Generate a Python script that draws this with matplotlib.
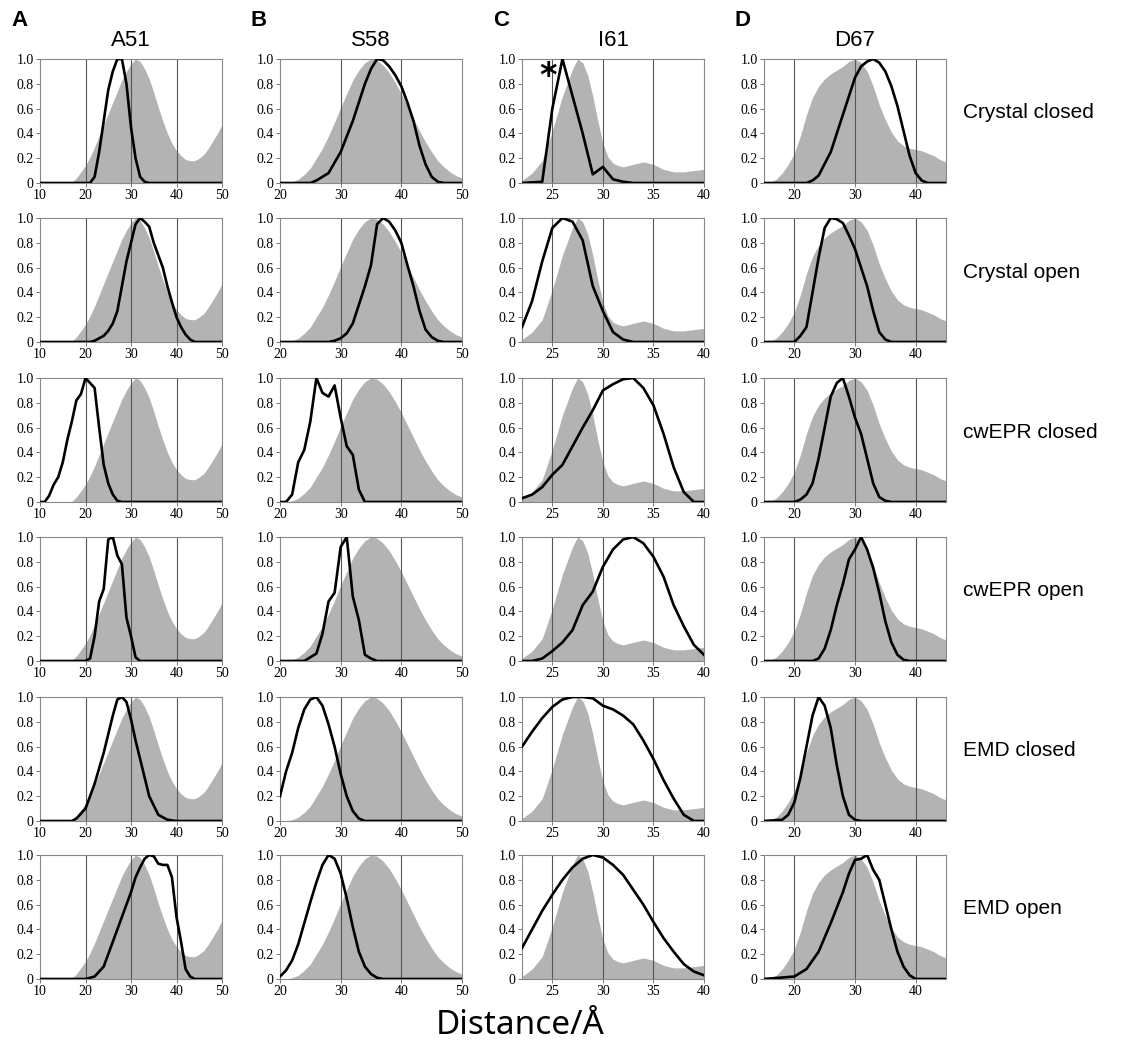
'''Distance distributions: simulated (gray) vs. experimental (black) per residue'''

import numpy as np
import matplotlib.pyplot as plt

residues = ['A51', 'S58', 'I61', 'D67']
letters = ['A', 'B', 'C', 'D']
states = ['Crystal closed', 'Crystal open', 'cwEPR closed', 'cwEPR open',
          'EMD closed', 'EMD open']
xlims = [(10, 50), (20, 50), (22, 40), (15, 45)]
xticks = [[10, 20, 30, 40, 50], [20, 30, 40, 50], [25, 30, 35, 40], [20, 30, 40]]
vlines = [[20, 30, 40], [30, 40], [25, 30, 35], [20, 30, 40]]

# gray reference distributions (one per residue)
gray_x = [
    [10, 16.5, 17, 18, 19, 20, 21, 22, 23, 24, 25, 26, 27, 28, 29, 30, 31, 32, 33, 34, 35, 36, 37, 38,
     39, 40, 41, 42, 43, 44, 45, 46, 47, 48, 49, 50],
    [20, 21, 22, 23, 24, 25, 26, 27, 28, 29, 30, 31, 32, 33, 34, 35, 36, 37, 38, 39, 40, 41, 42, 43,
     44, 45, 46, 47, 48, 49, 50],
    [22, 23, 24, 25, 26, 27, 27.5, 28, 28.5, 29, 29.5, 30, 30.5, 31, 31.5, 32, 33, 34, 35, 36, 37, 38,
     39, 40],
    [15, 16, 17, 18, 19, 20, 21, 22, 23, 24, 25, 26, 27, 28, 29, 30, 31, 32, 33, 34, 35, 36, 37, 38, 39,
     40, 41, 42, 43, 44, 45],
]
gray_y = [
    [0, 0, 0.005, 0.04, 0.09, 0.14, 0.21, 0.29, 0.38, 0.47, 0.56, 0.65, 0.74, 0.83, 0.9, 0.96, 1.0,
     0.98, 0.92, 0.84, 0.73, 0.61, 0.5, 0.4, 0.32, 0.26, 0.22, 0.19, 0.18, 0.18, 0.2, 0.23, 0.28, 0.34,
     0.4, 0.47],
    [0, 0, 0.01, 0.03, 0.07, 0.12, 0.2, 0.28, 0.38, 0.49, 0.61, 0.72, 0.83, 0.91, 0.97, 1.0, 0.99,
     0.95, 0.89, 0.81, 0.72, 0.62, 0.52, 0.42, 0.33, 0.25, 0.18, 0.13, 0.09, 0.06, 0.04],
    [0.02, 0.08, 0.18, 0.42, 0.7, 0.92, 1.0, 0.97, 0.87, 0.7, 0.5, 0.32, 0.21, 0.16, 0.14, 0.13, 0.15,
     0.17, 0.15, 0.11, 0.09, 0.09, 0.1, 0.11],
    [0, 0.005, 0.03, 0.08, 0.15, 0.24, 0.38, 0.55, 0.69, 0.78, 0.84, 0.88, 0.91, 0.94, 0.98, 1.0, 0.97,
     0.9, 0.78, 0.63, 0.51, 0.41, 0.34, 0.3, 0.28, 0.27, 0.26, 0.24, 0.22, 0.19, 0.17],
]

# black measured distributions, [row][col] = (x, y)
black = [
    [  # Crystal closed
        ([10, 21, 22, 23, 24, 25, 26, 27, 28, 29, 30, 31, 32, 33, 34, 50],
         [0, 0, 0.05, 0.25, 0.5, 0.75, 0.9, 1.0, 1.0, 0.8, 0.45, 0.2, 0.05, 0.01, 0, 0]),
        ([20, 25, 26, 28, 30, 32, 34, 35, 36, 37, 38, 39, 40, 41, 42, 43, 44, 45, 46, 47, 50],
         [0, 0, 0.02, 0.08, 0.25, 0.5, 0.8, 0.92, 1.0, 0.99, 0.94, 0.87, 0.78, 0.65, 0.5, 0.3, 0.15,
          0.05, 0.01, 0, 0]),
        ([22, 24, 25, 26, 27, 28, 29, 30, 31, 32, 33, 40],
         [0, 0.01, 0.6, 1.0, 0.7, 0.4, 0.07, 0.13, 0.03, 0.01, 0, 0]),
        ([15, 22, 23, 24, 26, 28, 30, 31, 32, 33, 34, 35, 36, 37, 38, 39, 40, 41, 42, 45],
         [0, 0, 0.02, 0.06, 0.25, 0.55, 0.85, 0.94, 0.98, 1.0, 0.97, 0.9, 0.78, 0.62, 0.42, 0.22, 0.08,
          0.02, 0, 0]),
    ],
    [  # Crystal open
        ([10, 21, 22, 24, 25, 26, 27, 28, 29, 30, 31, 32, 33, 34, 35, 36, 37, 38, 39, 40, 41, 42, 43,
          44, 50],
         [0, 0, 0.01, 0.05, 0.09, 0.15, 0.25, 0.45, 0.65, 0.8, 0.95, 1.0, 0.97, 0.93, 0.8, 0.7, 0.6,
          0.45, 0.32, 0.2, 0.12, 0.06, 0.02, 0, 0]),
        ([20, 28, 29, 30, 31, 32, 33, 34, 35, 36, 37, 38, 39, 40, 41, 42, 43, 44, 45, 46, 47, 50],
         [0, 0, 0.01, 0.03, 0.07, 0.15, 0.3, 0.45, 0.62, 0.95, 1.0, 0.97, 0.9, 0.8, 0.62, 0.45, 0.25,
          0.1, 0.04, 0.01, 0, 0]),
        ([22, 23, 24, 25, 26, 27, 28, 29, 30, 31, 32, 33, 40],
         [0.12, 0.33, 0.65, 0.92, 1.0, 0.97, 0.82, 0.45, 0.25, 0.08, 0.02, 0, 0]),
        ([15, 20, 21, 22, 23, 24, 25, 26, 27, 28, 29, 30, 31, 32, 33, 34, 35, 36, 45],
         [0, 0, 0.05, 0.12, 0.4, 0.68, 0.92, 1.0, 0.99, 0.96, 0.86, 0.75, 0.6, 0.45, 0.25, 0.08, 0.02,
          0, 0]),
    ],
    [  # cwEPR closed
        ([10, 11, 12, 13, 14, 15, 16, 17, 18, 19, 20, 21, 22, 23, 24, 25, 26, 27, 28, 50],
         [0, 0, 0.05, 0.14, 0.2, 0.32, 0.5, 0.65, 0.82, 0.87, 1.0, 0.96, 0.92, 0.6, 0.3, 0.15, 0.06,
          0.01, 0, 0]),
        ([20, 21, 22, 23, 24, 25, 26, 27, 28, 29, 30, 31, 32, 33, 34, 50],
         [0, 0, 0.06, 0.32, 0.42, 0.65, 1.0, 0.88, 0.85, 0.94, 0.68, 0.45, 0.38, 0.1, 0, 0]),
        ([22, 23, 24, 25, 26, 27, 28, 29, 30, 31, 32, 33, 34, 35, 36, 37, 38, 39, 40],
         [0.03, 0.06, 0.12, 0.22, 0.3, 0.45, 0.6, 0.74, 0.9, 0.95, 0.99, 1.0, 0.92, 0.78, 0.55, 0.28,
          0.08, 0, 0]),
        ([15, 20, 21, 22, 23, 24, 25, 26, 27, 28, 29, 30, 31, 32, 33, 34, 35, 36, 45],
         [0, 0, 0.02, 0.06, 0.15, 0.35, 0.6, 0.85, 0.96, 1.0, 0.85, 0.68, 0.55, 0.35, 0.15, 0.04, 0.01,
          0, 0]),
    ],
    [  # cwEPR open
        ([10, 20, 21, 22, 23, 24, 25, 26, 27, 28, 29, 30, 31, 32, 50],
         [0, 0, 0.02, 0.2, 0.48, 0.58, 0.98, 1.0, 0.85, 0.78, 0.35, 0.2, 0.03, 0, 0]),
        ([20, 24, 25, 26, 27, 28, 29, 30, 31, 32, 33, 34, 35, 36, 50],
         [0, 0, 0.03, 0.06, 0.22, 0.48, 0.55, 0.92, 1.0, 0.52, 0.33, 0.05, 0.02, 0, 0]),
        ([22, 23, 24, 25, 26, 27, 28, 29, 30, 31, 32, 33, 34, 35, 36, 37, 38, 39, 40],
         [0, 0, 0.02, 0.08, 0.15, 0.25, 0.45, 0.56, 0.76, 0.9, 0.98, 1.0, 0.95, 0.84, 0.68, 0.45, 0.28,
          0.13, 0.05]),
        ([15, 23, 24, 25, 26, 27, 28, 29, 30, 31, 32, 33, 34, 35, 36, 37, 38, 39, 45],
         [0, 0, 0.02, 0.1, 0.25, 0.45, 0.62, 0.82, 0.9, 1.0, 0.9, 0.75, 0.55, 0.32, 0.15, 0.05, 0.01,
          0, 0]),
    ],
    [  # EMD closed
        ([10, 17, 18, 20, 22, 24, 26, 27, 28, 29, 30, 31, 32, 34, 36, 38, 40, 50],
         [0, 0, 0.02, 0.1, 0.3, 0.55, 0.85, 0.98, 1.0, 0.96, 0.82, 0.65, 0.5, 0.2, 0.05, 0.01, 0, 0]),
        ([20, 21, 22, 23, 24, 25, 26, 27, 28, 29, 30, 31, 32, 33, 34, 50],
         [0.2, 0.4, 0.55, 0.75, 0.9, 0.98, 1.0, 0.93, 0.78, 0.6, 0.38, 0.2, 0.08, 0.02, 0, 0]),
        ([22, 23, 24, 25, 26, 27, 28, 29, 30, 31, 32, 33, 34, 35, 36, 37, 38, 39, 40],
         [0.6, 0.72, 0.83, 0.92, 0.98, 1.0, 1.0, 0.99, 0.93, 0.9, 0.85, 0.78, 0.65, 0.5, 0.33, 0.18,
          0.05, 0, 0]),
        ([15, 18, 19, 20, 21, 22, 23, 24, 25, 26, 27, 28, 29, 30, 31, 45],
         [0, 0.01, 0.05, 0.15, 0.35, 0.6, 0.85, 1.0, 0.93, 0.75, 0.45, 0.2, 0.05, 0.01, 0, 0]),
    ],
    [  # EMD open
        ([10, 20, 22, 24, 26, 28, 29, 30, 31, 32, 33, 34, 35, 36, 37, 38, 39, 40, 41, 42, 43, 44, 50],
         [0, 0, 0.02, 0.1, 0.3, 0.5, 0.6, 0.7, 0.82, 0.9, 0.97, 1.0, 0.99, 0.93, 0.92, 0.92, 0.82, 0.5,
          0.3, 0.08, 0.02, 0, 0]),
        ([20, 21, 22, 23, 24, 25, 26, 27, 28, 29, 30, 31, 32, 33, 34, 35, 36, 37, 50],
         [0.02, 0.07, 0.15, 0.28, 0.45, 0.62, 0.78, 0.92, 1.0, 0.97, 0.85, 0.65, 0.42, 0.22, 0.1, 0.04,
          0.01, 0, 0]),
        ([22, 23, 24, 25, 26, 27, 28, 29, 30, 31, 32, 33, 34, 35, 36, 37, 38, 39, 40],
         [0.25, 0.4, 0.55, 0.68, 0.8, 0.9, 0.97, 1.0, 0.98, 0.92, 0.84, 0.72, 0.6, 0.46, 0.33, 0.22,
          0.12, 0.06, 0.03]),
        ([15, 20, 22, 24, 26, 28, 29, 30, 31, 32, 33, 34, 35, 36, 37, 38, 39, 40, 45],
         [0, 0.02, 0.08, 0.22, 0.45, 0.7, 0.85, 0.96, 0.97, 1.0, 0.88, 0.8, 0.6, 0.4, 0.22, 0.1, 0.03,
          0, 0]),
    ],
]

W, H = 1127, 1054
fig = plt.figure(figsize=(W / 100, H / 100), dpi=100)

col_left = [40, 280, 522, 764]
row_top = [59, 218, 378, 537, 697, 855]
ax_w, ax_h = 182, 124

serif = 'Liberation Serif'
sans = 'Liberation Sans'

for r in range(6):
    for c in range(4):
        ax = fig.add_axes([col_left[c] / W, 1 - (row_top[r] + ax_h) / H, ax_w / W, ax_h / H])
        ax.fill_between(gray_x[c], gray_y[c], 0, color='#b3b3b3', lw=0, zorder=1)
        for v in vlines[c]:
            ax.axvline(v, color='#555555', lw=0.8, zorder=2)
        bx, by = black[r][c]
        ax.plot(bx, by, color='black', lw=1.9, zorder=3)
        ax.set_xlim(*xlims[c])
        ax.set_ylim(0, 1.0)
        ax.set_xticks(xticks[c])
        ax.set_yticks([0, 0.2, 0.4, 0.6, 0.8, 1.0])
        ax.set_yticklabels(['0', '0.2', '0.4', '0.6', '0.8', '1.0'])
        for lab in ax.get_xticklabels() + ax.get_yticklabels():
            lab.set_fontfamily(serif)
            lab.set_fontsize(10)
        ax.tick_params(length=3, width=0.7, color='#777777', pad=1.5)
        for s in ax.spines.values():
            s.set_color('#888888')
            s.set_linewidth(0.8)
        if r == 0:
            ax.set_title(residues[c], fontsize=16, family=sans, pad=9)
        if r == 0 and c == 2:
            ax.text(24.6, 0.86, '*', fontsize=24, fontweight='bold', ha='center', va='center',
                    zorder=4)

    fig.text(963 / W, 1 - (row_top[r] + 54) / H, states[r], fontsize=15, family=sans,
             ha='left', va='center')

for c in range(4):
    fig.text((col_left[c] - 29) / W, 1 - 21 / H, letters[c], fontsize=16, fontweight='bold',
             family=sans, ha='left', va='center')

fig.text(520 / W, 1 - 1025 / H, 'Distance/Å', fontsize=24, family='Noto Sans',
         ha='center', va='center')

fig.savefig('out.png', dpi=100)
